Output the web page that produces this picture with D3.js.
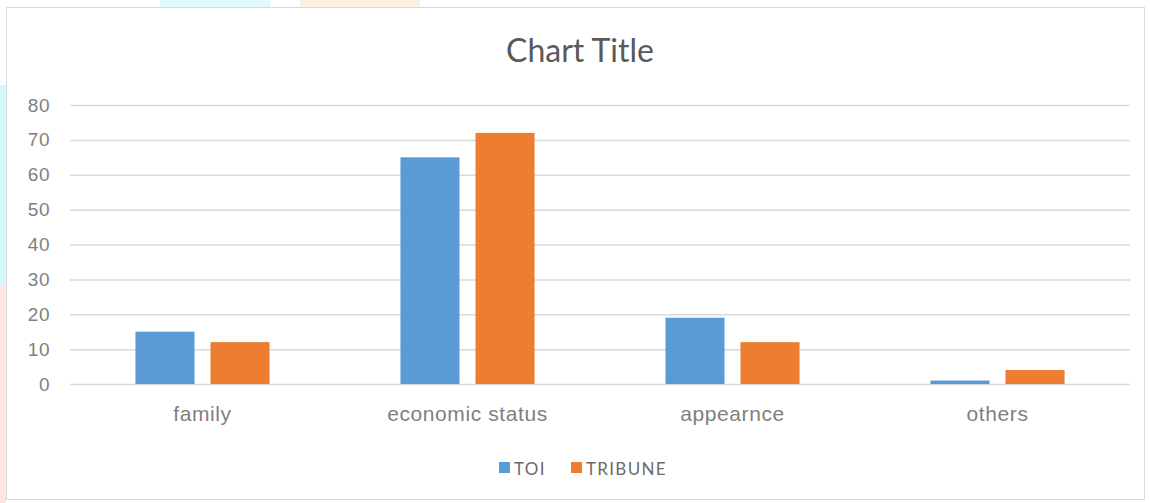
<!DOCTYPE html>
<html>
<head>
<meta charset="utf-8">
<script src="https://cdn.jsdelivr.net/npm/d3@7"></script>
<style>
	body { margin: 0; background: #fff; }
	svg { display: block; font-family: Lato, "Open Sans", sans-serif; }
	.tick text { fill: #7f7f7f; }
</style>
</head>
<body>
<div id="app"></div>
<script>
// the numbers
const categories = ['family', 'economic status', 'appearnce', 'others'];
const seriesNames = ['TOI', 'TRIBUNE'];
const toiValues = [15, 65, 19, 1];
const tribuneValues = [12, 72, 12, 4];
const yTickValues = [0, 10, 20, 30, 40, 50, 60, 70, 80];
const colours = ['#5b9bd5', '#ed7d31'];

const width = 1150;
const height = 503;
const margin = { top: 105, right: 20, bottom: 119, left: 70 };

const svg = d3.select('#app')
	.append('svg')
	.attr('width', width)
	.attr('height', height);

// faint page scraps around the chart frame
svg.append('rect').attr('x', 0).attr('y', 85).attr('width', 6).attr('height', 200).attr('fill', '#d6f7f8');
svg.append('rect').attr('x', 0).attr('y', 285).attr('width', 6).attr('height', 218).attr('fill', '#fce6e1');
svg.append('rect').attr('x', 160).attr('y', 0).attr('width', 110).attr('height', 7).attr('fill', '#e0fafb');
svg.append('rect').attr('x', 300).attr('y', 0).attr('width', 120).attr('height', 7).attr('fill', '#fdf0e3');

// chart frame
svg.append('rect')
	.attr('x', 6.5).attr('y', 7.5)
	.attr('width', 1138).attr('height', 492)
	.attr('fill', '#fff')
	.attr('stroke', '#d9d9d9');

const x = d3.scaleBand()
	.domain(categories)
	.range([margin.left, width - margin.right])
	.paddingInner(0.494)
	.paddingOuter(0.247);

const xInner = d3.scaleBand()
	.domain(seriesNames)
	.range([0, x.bandwidth()])
	.paddingInner(0.213);

const y = d3.scaleLinear()
	.domain([0, 80])
	.range([height - margin.bottom, margin.top]);

// gridlines + y labels
svg.append('g')
	.attr('transform', `translate(${margin.left},0)`)
	.call(d3.axisLeft(y)
		.tickValues(yTickValues)
		.tickSize(-(width - margin.left - margin.right))
		.tickPadding(20)
	)
	.call(g => g.select('.domain').remove())
	.call(g => g.selectAll('.tick line').attr('stroke', '#d9d9d9').attr('stroke-width', 1.5))
	.call(g => g.selectAll('.tick text').attr('font-size', 19).attr('letter-spacing', 0.5));

// bars
const rows = categories.map((c, i) => ({ cat: c, values: [toiValues[i], tribuneValues[i]] }));

svg.append('g')
	.selectAll('g')
	.data(rows)
	.join('g')
	.attr('transform', d => `translate(${x(d.cat)},0)`)
	.selectAll('rect')
	.data(d => d.values.map((v, i) => ({ name: seriesNames[i], value: v, i })))
	.join('rect')
	.attr('x', d => xInner(d.name))
	.attr('y', d => y(d.value))
	.attr('width', xInner.bandwidth())
	.attr('height', d => y(0) - y(d.value))
	.attr('fill', d => colours[d.i]);

// category labels
svg.append('g')
	.attr('transform', `translate(0,${height - margin.bottom})`)
	.call(d3.axisBottom(x).tickSize(0).tickPadding(22))
	.call(g => g.select('.domain').remove())
	.call(g => g.selectAll('.tick text').attr('font-size', 21).attr('letter-spacing', 0.6).attr('fill', '#6b6b6b'));

// title
svg.append('text')
	.attr('x', 580)
	.attr('y', 62)
	.attr('text-anchor', 'middle')
	.attr('font-size', 32)
	.attr('fill', '#595959')
	.text('Chart Title');

// legend
const legendX = [499, 571];
const legend = svg.append('g')
	.selectAll('g')
	.data(seriesNames)
	.join('g')
	.attr('transform', (d, i) => `translate(${legendX[i]},468)`);

legend.append('rect')
	.attr('x', 0).attr('y', -6)
	.attr('width', 11).attr('height', 11)
	.attr('fill', (d, i) => colours[i]);

legend.append('text')
	.attr('x', 15)
	.attr('y', 7)
	.attr('font-size', 17)
	.attr('letter-spacing', 1.3)
	.attr('fill', '#6b6b6b')
	.text(d => d);
</script>
</body>
</html>
